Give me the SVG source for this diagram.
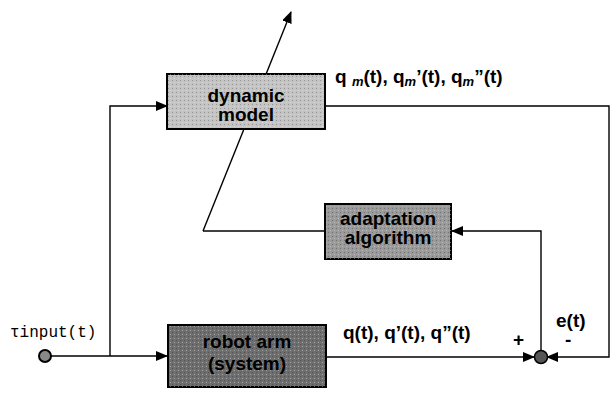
<svg xmlns="http://www.w3.org/2000/svg" width="616" height="418" viewBox="0 0 616 418">
<defs>
<marker id="ah" markerWidth="12" markerHeight="10" refX="11" refY="5" orient="auto" markerUnits="userSpaceOnUse">
<path d="M0,0 L12,5 L0,10 Z" fill="#000"/>
</marker>
<pattern id="dots" width="4" height="4" patternUnits="userSpaceOnUse">
<rect width="4" height="4" fill="none"/>
<rect x="0" y="0" width="1" height="1" fill="#000" opacity="0.25"/>
<rect x="2" y="2" width="1" height="1" fill="#fff" opacity="0.35"/>
</pattern>
</defs>
<style>
.box{stroke:#000;stroke-width:2}
.bt{font-family:"Liberation Sans",Arial,sans-serif;font-weight:bold;font-size:19px;text-anchor:middle;fill:#000}
.lbl{font-family:"Liberation Sans",Arial,sans-serif;font-weight:bold;font-size:19px;fill:#000}
.ln{fill:none;stroke:#000;stroke-width:1.4}
</style>
<rect width="616" height="418" fill="#fff"/>
<g id="connectors">
<path class="ln" d="M203,231 L291,12" marker-end="url(#ah)"/>
<path class="ln" d="M203,231 L325,231"/>
<path class="ln" d="M50,356 L167,356" marker-end="url(#ah)"/>
<path class="ln" d="M110,356 L110,106 L167,106" marker-end="url(#ah)"/>
<path class="ln" d="M326,106 L609,106 L609,357 L547,357" marker-end="url(#ah)"/>
<path class="ln" d="M327,357 L534,357" marker-end="url(#ah)"/>
<path class="ln" d="M541,351 L541,231 L452,231" marker-end="url(#ah)"/>
</g>
<g id="dynamic_model">
<rect class="box" x="167" y="74" width="158" height="55" fill="#c4c4c4"/>
<rect x="167" y="74" width="158" height="55" fill="url(#dots)"/>
<text class="bt" x="246" y="102">dynamic</text>
<text class="bt" x="246" y="121">model</text>
</g>
<g id="adaptation_algorithm">
<rect class="box" x="325" y="204" width="126" height="55" fill="#9a9a9a"/>
<rect x="325" y="204" width="126" height="55" fill="url(#dots)"/>
<text class="bt" x="388" y="225">adaptation</text>
<text class="bt" x="388" y="244">algorithm</text>
</g>
<g id="robot_arm">
<rect class="box" x="168" y="325" width="158" height="62" fill="#6e6e6e"/>
<rect x="168" y="325" width="158" height="62" fill="url(#dots)"/>
<text class="bt" x="247" y="348" fill="#222">robot arm</text>
<text class="bt" x="247" y="370" fill="#222">(system)</text>
</g>
<g id="input">
<circle cx="45" cy="356" r="6" fill="#888" stroke="#000" stroke-width="2"/>
<text x="10" y="337" font-family="'Liberation Mono','Courier New',monospace" font-size="16" fill="#000">τinput(t)</text>
</g>
<g id="sum">
<circle cx="541" cy="357" r="6.5" fill="#555" stroke="#000" stroke-width="1.5"/>
<text class="lbl" x="513" y="346">+</text>
<text class="lbl" x="565" y="346">-</text>
</g>
<g id="labels">
<text class="lbl" x="335" y="83">q <tspan font-size="13" font-style="italic" dy="3">m</tspan><tspan dy="-3">(t), q</tspan><tspan font-size="13" font-style="italic" dy="3">m</tspan><tspan dy="-3">’(t), q</tspan><tspan font-size="13" font-style="italic" dy="3">m</tspan><tspan dy="-3">”(t)</tspan></text>
<text class="lbl" x="343" y="339">q(t), q’(t), q”(t)</text>
<text class="lbl" x="556" y="327">e(t)</text>
</g>
</svg>
